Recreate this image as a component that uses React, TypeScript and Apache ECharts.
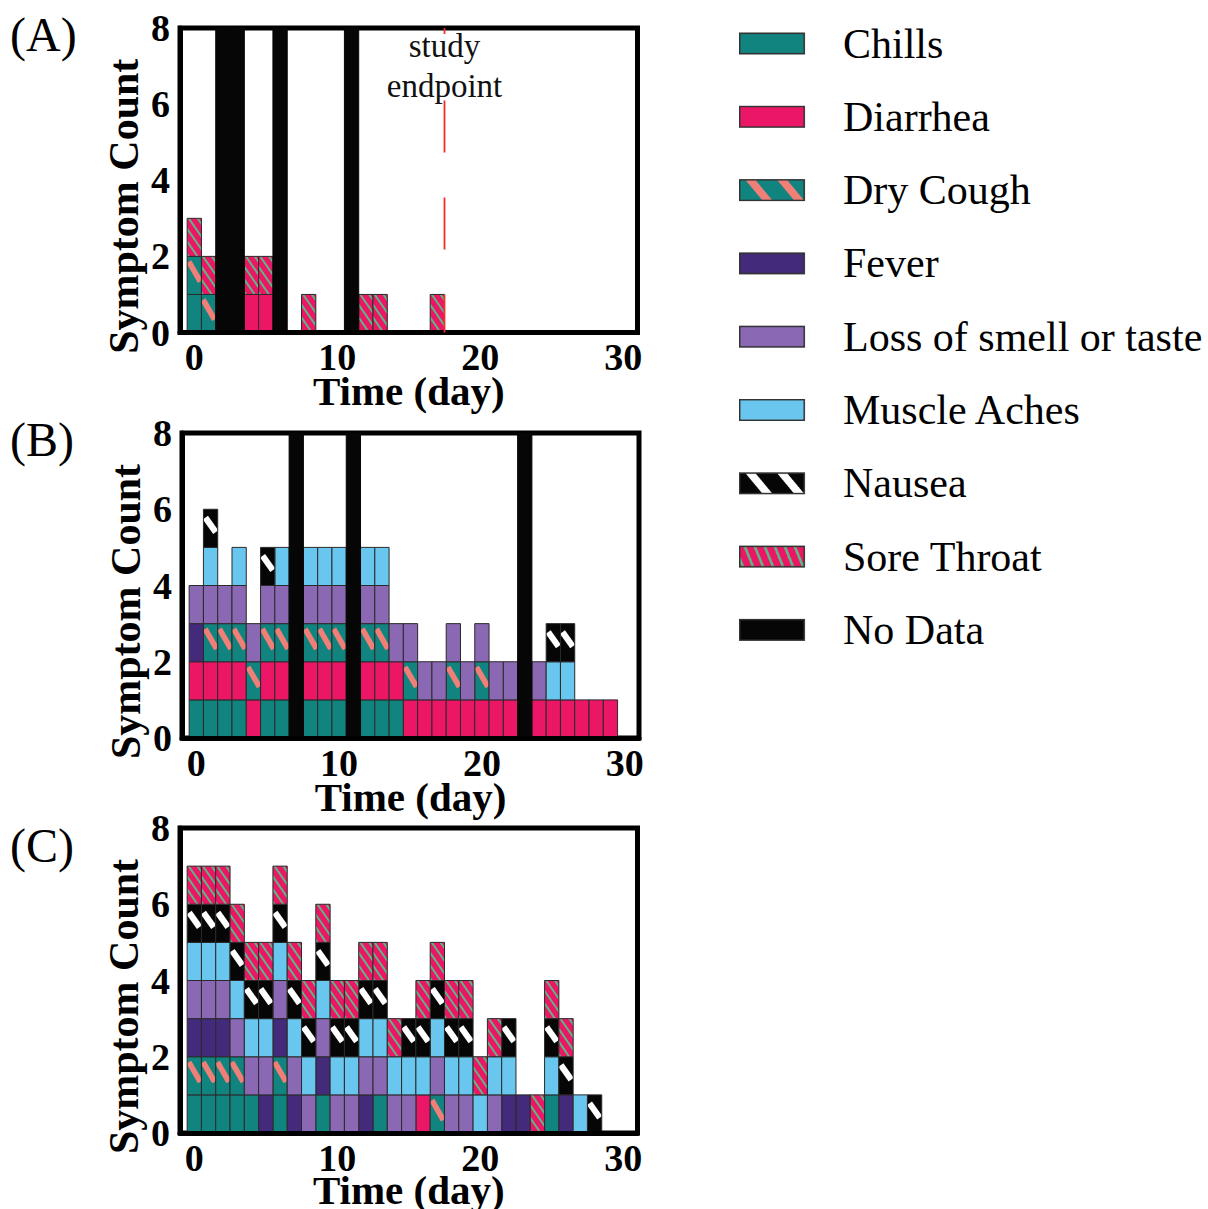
import React, { useEffect, useRef } from 'react';
import * as echarts from 'echarts';

const FONT = 'Liberation Serif';

const SYMPTOMS = ['Chills', 'Diarrhea', 'Dry Cough', 'Fever', 'Loss of smell or taste', 'Muscle Aches', 'Nausea', 'Sore Throat'];
const NO_DATA_NAME = 'No Data';
const X_TICKS = [0, 10, 20, 30];
const PANEL_LABELS = ['(A)', '(B)', '(C)'];
const STUDY_ENDPOINT_DAY = 17.5;

// Panel A: days on which each symptom was reported
const A_CHILLS = [0];
const A_DIARRHEA = [4, 5];
const A_DRY_COUGH = [0, 1];
const A_FEVER: number[] = [];
const A_LOSS = [] as number[];
const A_MUSCLE = [] as number[];
const A_NAUSEA = [] as number[];
const A_SORE_THROAT = [0, 1, 4, 5, 8, 12, 13, 17];
const A_NO_DATA = [2, 3, 6, 11];

// Panel B
const B_CHILLS = [0, 1, 2, 3, 5, 6, 8, 9, 10, 12, 13, 14];
const B_DIARRHEA = [0, 1, 2, 3, 4, 5, 6, 8, 9, 10, 12, 13, 14, 15, 16, 17, 18, 19, 20, 21, 22, 24, 25, 26, 27, 28, 29];
const B_DRY_COUGH = [1, 2, 3, 4, 5, 6, 8, 9, 10, 12, 13, 15, 18, 20];
const B_FEVER = [0];
const B_LOSS = [0, 1, 2, 3, 4, 5, 6, 8, 9, 10, 12, 13, 14, 15, 16, 17, 18, 19, 20, 21, 22, 24];
const B_MUSCLE = [1, 3, 6, 8, 9, 10, 12, 13, 25, 26];
const B_NAUSEA = [1, 5, 25, 26];
const B_SORE_THROAT = [] as number[];
const B_NO_DATA = [7, 11, 23];

// Panel C
const C_CHILLS = [0, 1, 2, 3, 4, 6, 9, 13, 25];
const C_DIARRHEA = [16];
const C_DRY_COUGH = [0, 1, 2, 3, 6, 17];
const C_FEVER = [0, 1, 2, 5, 6, 7, 9, 12, 22, 23, 26];
const C_LOSS = [0, 1, 2, 3, 4, 5, 6, 7, 8, 9, 10, 11, 12, 13, 14, 15, 17, 18, 19, 21];
const C_MUSCLE = [0, 1, 2, 3, 4, 5, 6, 7, 8, 9, 10, 11, 12, 13, 14, 15, 16, 17, 18, 19, 20, 21, 22, 25, 27];
const C_NAUSEA = [0, 1, 2, 3, 4, 5, 6, 7, 8, 9, 10, 11, 12, 13, 15, 16, 17, 18, 19, 22, 25, 26, 28];
const C_SORE_THROAT = [0, 1, 2, 3, 4, 5, 6, 7, 8, 9, 10, 11, 12, 13, 14, 16, 17, 18, 19, 20, 21, 24, 25, 26];
const C_NO_DATA = [] as number[];

const PANELS = [
  { symptoms: [A_CHILLS, A_DIARRHEA, A_DRY_COUGH, A_FEVER, A_LOSS, A_MUSCLE, A_NAUSEA, A_SORE_THROAT], noData: A_NO_DATA },
  { symptoms: [B_CHILLS, B_DIARRHEA, B_DRY_COUGH, B_FEVER, B_LOSS, B_MUSCLE, B_NAUSEA, B_SORE_THROAT], noData: B_NO_DATA },
  { symptoms: [C_CHILLS, C_DIARRHEA, C_DRY_COUGH, C_FEVER, C_LOSS, C_MUSCLE, C_NAUSEA, C_SORE_THROAT], noData: C_NO_DATA },
];

const TEAL = '#128480';
const PINK = '#ec1667';
const SALMON = '#f07f78';
const GREEN = '#5db883';
const DARK_PURPLE = '#432a7a';
const PURPLE = '#8b68b3';
const LIGHT_BLUE = '#69c6ee';
const BLACK = '#060606';
const EDGE = '#2a2a2a';

type StripeKind = 'none' | 'single' | 'multi';
const STYLES: { base: string; kind: StripeKind; stripe?: string }[] = [
  { base: TEAL, kind: 'none' },
  { base: PINK, kind: 'none' },
  { base: TEAL, kind: 'single', stripe: SALMON },
  { base: DARK_PURPLE, kind: 'none' },
  { base: PURPLE, kind: 'none' },
  { base: LIGHT_BLUE, kind: 'none' },
  { base: BLACK, kind: 'single', stripe: '#ffffff' },
  { base: PINK, kind: 'multi', stripe: GREEN },
];

const GRIDS = [
  { left: 180, top: 28, width: 457.5, height: 304.5 },
  { left: 182, top: 433, width: 457, height: 305 },
  { left: 180, top: 828, width: 457.5, height: 305 },
];
const X_NAME_GAPS = [41.5, 41.5, 39.5];
const LABEL_POS = [
  { x: 10, y: 34 },
  { x: 10, y: 439 },
  { x: 10, y: 845 },
];

function clipPoly(pts: number[][], x0: number, y0: number, x1: number, y1: number) {
  const planes: [number, number, number][] = [[0, 1, x0], [0, -1, x1], [1, 1, y0], [1, -1, y1]];
  let out = pts;
  for (const [ax, sg, b] of planes) {
    const inp = out;
    out = [];
    if (!inp.length) break;
    for (let i = 0; i < inp.length; i++) {
      const cur = inp[i];
      const prev = inp[(i + inp.length - 1) % inp.length];
      const ci = sg * (cur[ax] - b) >= 0;
      const pi = sg * (prev[ax] - b) >= 0;
      if (ci !== pi) {
        const t = (b - prev[ax]) / (cur[ax] - prev[ax]);
        out.push([prev[0] + t * (cur[0] - prev[0]), prev[1] + t * (cur[1] - prev[1])]);
      }
      if (ci) out.push(cur);
    }
  }
  return out;
}

function band(sx: number, sy: number, ex: number, ey: number, th: number) {
  const dx = ex - sx, dy = ey - sy;
  const len = Math.sqrt(dx * dx + dy * dy) || 1;
  const nx = (-dy / len) * th / 2, ny = (dx / len) * th / 2;
  return [[sx + nx, sy + ny], [ex + nx, ey + ny], [ex - nx, ey - ny], [sx - nx, sy - ny]];
}

function makeRender(si: number) {
  const st = STYLES[si];
  return (params: any, api: any) => {
    const d = api.value(0), l = api.value(1);
    const tl = api.coord([d - 0.5, l + 1]);
    const br = api.coord([d + 0.5, l]);
    const x0 = tl[0], y0 = tl[1], x1 = br[0], y1 = br[1];
    const w = x1 - x0, h = y1 - y0;
    const children: any[] = [
      { type: 'rect', shape: { x: x0, y: y0, width: w, height: h }, style: { fill: st.base } },
    ];
    if (st.kind === 'single') {
      const p = si === 2
        ? band(x0 + 0.12 * w, y0 + 0.14 * h, x0 + 0.92 * w, y0 + 0.66 * h, 5.6)
        : band(x0 + 0.14 * w, y0 + 0.22 * h, x0 + 0.86 * w, y0 + 0.6 * h, 6.2);
      const c = clipPoly(p, x0, y0, x1, y1);
      if (c.length > 2) children.push({ type: 'polygon', shape: { points: c }, style: { fill: st.stripe } });
    } else if (st.kind === 'multi') {
      const k = 1.45, P = 12.7, t = 3.4;
      for (let c = -k * w - P + 4; c < h + P; c += P) {
        const p = [[x0, y0 + c], [x1, y0 + c + k * w], [x1, y0 + c + k * w + t], [x0, y0 + c + t]];
        const cp = clipPoly(p, x0, y0, x1, y1);
        if (cp.length > 2) children.push({ type: 'polygon', shape: { points: cp }, style: { fill: st.stripe } });
      }
    }
    children.push({ type: 'rect', shape: { x: x0, y: y0, width: w, height: h }, style: { fill: 'none', stroke: EDGE, lineWidth: 1 } });
    return { type: 'group', children };
  };
}

function renderNoData(params: any, api: any) {
  const d = api.value(0);
  const tl = api.coord([d - 0.5, 8]);
  const br = api.coord([d + 0.5, 0]);
  return {
    type: 'rect',
    shape: { x: tl[0], y: tl[1], width: br[0] - tl[0], height: br[1] - tl[1] },
    style: { fill: BLACK, stroke: BLACK, lineWidth: 1 },
  };
}

function legendIcon(base: string, kind: 'none' | 'wide' | 'thin', stripe?: string) {
  const S = 3, W = 99, H = 22, IW = 66;
  const cv = document.createElement('canvas');
  cv.width = W * S;
  cv.height = H * S;
  const ctx = cv.getContext('2d') as CanvasRenderingContext2D;
  ctx.scale(S, S);
  ctx.fillStyle = base;
  ctx.fillRect(0.5, 0.5, IW - 1, H - 1);
  if (kind !== 'none' && stripe) {
    ctx.save();
    ctx.beginPath();
    ctx.rect(0.5, 0.5, IW - 1, H - 1);
    ctx.clip();
    ctx.fillStyle = stripe;
    const period = kind === 'wide' ? 31.7 : 10;
    const width = kind === 'wide' ? 10 : 2.8;
    const shift = kind === 'wide' ? 18.3 : 9;
    const start = kind === 'wide' ? 5.7 : -6;
    for (let x = start; x < IW + 2; x += period) {
      ctx.beginPath();
      ctx.moveTo(x, 0);
      ctx.lineTo(x + width, 0);
      ctx.lineTo(x + width + shift, H);
      ctx.lineTo(x + shift, H);
      ctx.closePath();
      ctx.fill();
    }
    ctx.restore();
  }
  ctx.strokeStyle = '#333';
  ctx.lineWidth = 1.5;
  ctx.strokeRect(0.75, 0.75, IW - 1.5, H - 1.5);
  return 'image://' + cv.toDataURL();
}

function buildCells(symptoms: number[][]) {
  const level: Record<number, number> = {};
  return symptoms.map((days) =>
    days.map((d) => {
      const l = level[d] ?? 0;
      level[d] = l + 1;
      return [d, l];
    })
  );
}

export default function App() {
  const ref = useRef<HTMLDivElement>(null);
  useEffect(() => {
    if (!ref.current) return;
    const chart = echarts.init(ref.current, undefined, { renderer: 'svg' });

    const series: any[] = [];
    PANELS.forEach((panel, p) => {
      const cells = buildCells(panel.symptoms);
      cells.forEach((data, si) => {
        series.push({
          name: SYMPTOMS[si],
          type: 'custom',
          xAxisIndex: p,
          yAxisIndex: p,
          data,
          encode: { x: 0, y: 1 },
          renderItem: makeRender(si),
          itemStyle: { color: STYLES[si].base },
          silent: true,
          z: 2,
        });
      });
      series.push({
        name: NO_DATA_NAME,
        type: 'custom',
        xAxisIndex: p,
        yAxisIndex: p,
        data: panel.noData.map((d) => [d, 0]),
        encode: { x: 0, y: 1 },
        renderItem: renderNoData,
        itemStyle: { color: BLACK },
        silent: true,
        z: 2,
      });
    });
    series.push({
      name: 'study endpoint',
      type: 'line',
      xAxisIndex: 0,
      yAxisIndex: 0,
      data: [[STUDY_ENDPOINT_DAY, 0], [STUDY_ENDPOINT_DAY, 8]],
      showSymbol: false,
      symbol: 'none',
      silent: true,
      clip: false,
      lineStyle: { color: '#f0302a', width: 1.8, type: [52, 45], dashOffset: 14 },
      z: 6,
    });

    const legendData = [
      { name: 'Chills', icon: legendIcon(TEAL, 'none') },
      { name: 'Diarrhea', icon: legendIcon(PINK, 'none') },
      { name: 'Dry Cough', icon: legendIcon(TEAL, 'wide', SALMON) },
      { name: 'Fever', icon: legendIcon(DARK_PURPLE, 'none') },
      { name: 'Loss of smell or taste', icon: legendIcon(PURPLE, 'none') },
      { name: 'Muscle Aches', icon: legendIcon(LIGHT_BLUE, 'none') },
      { name: 'Nausea', icon: legendIcon(BLACK, 'wide', '#ffffff') },
      { name: 'Sore Throat', icon: legendIcon(PINK, 'thin', GREEN) },
      { name: NO_DATA_NAME, icon: legendIcon(BLACK, 'none') },
    ];

    const g0 = GRIDS[0];
    const ex = g0.left + ((STUDY_ENDPOINT_DAY + 1) / 32) * g0.width;

    chart.setOption({
      animation: false,
      textStyle: { fontFamily: FONT, color: '#000' },
      grid: GRIDS.map((g) => ({ ...g, show: true, borderColor: '#000', borderWidth: 5, backgroundColor: 'transparent', containLabel: false, outerBoundsMode: 'none' })),
      xAxis: GRIDS.map((g, i) => ({
        type: 'value',
        gridIndex: i,
        min: -1,
        max: 31,
        z: 5,
        axisLine: { show: true, onZero: false, lineStyle: { color: '#000', width: 5 } },
        axisTick: { show: false },
        splitLine: { show: false },
        axisLabel: { customValues: X_TICKS, fontSize: 38, fontWeight: 'bold', color: '#000', margin: 9.5, lineHeight: 30, fontFamily: FONT },
        name: 'Time (day)',
        nameLocation: 'middle',
        nameGap: X_NAME_GAPS[i],
        nameMoveOverlap: false,
        nameTextStyle: { fontSize: 41, fontWeight: 'bold', color: '#000', lineHeight: 34, fontFamily: FONT },
      })),
      yAxis: GRIDS.map((g, i) => ({
        type: 'value',
        gridIndex: i,
        min: 0,
        max: 8,
        interval: 2,
        z: 5,
        axisLine: { show: true, onZero: false, lineStyle: { color: '#000', width: 5 } },
        axisTick: { show: false },
        splitLine: { show: false },
        axisLabel: { fontSize: 38, fontWeight: 'bold', color: '#000', margin: 10, lineHeight: 38, fontFamily: FONT },
        name: 'Symptom Count',
        nameLocation: 'middle',
        nameGap: 36,
        nameMoveOverlap: false,
        nameTextStyle: { fontSize: 42, fontWeight: 'bold', color: '#000', lineHeight: 40, fontFamily: FONT, padding: [0, 52, 0, 0] },
      })),
      legend: {
        orient: 'vertical',
        left: 739,
        top: 22.5,
        padding: 0,
        itemWidth: 99,
        itemHeight: 22,
        itemGap: 31.3,
        selectedMode: false,
        textStyle: { fontSize: 42, lineHeight: 42, color: '#000', fontFamily: FONT },
        data: legendData,
      },
      graphic: [
        ...PANEL_LABELS.map((t, i) => ({
          type: 'text',
          x: LABEL_POS[i].x,
          y: LABEL_POS[i].y,
          z: 50,
          style: { text: t, fontSize: 48, fontFamily: FONT, fill: '#000', verticalAlign: 'middle', align: 'left' },
        })),
        { type: 'rect', z: 50, shape: { x: ex - 6, y: 34, width: 12, height: 66 }, style: { fill: '#fff' } },
        {
          type: 'text',
          x: ex,
          y: 26,
          z: 51,
          style: { text: 'study\nendpoint', fontSize: 33, lineHeight: 40, fontFamily: FONT, fill: '#111', align: 'center', verticalAlign: 'top' },
        },
      ],
      series,
    });
    return () => chart.dispose();
  }, []);
  return <div ref={ref} style={{ position: 'absolute', left: 0, top: 0, width: 1208, height: 1209, background: '#fff' }} />;
}
